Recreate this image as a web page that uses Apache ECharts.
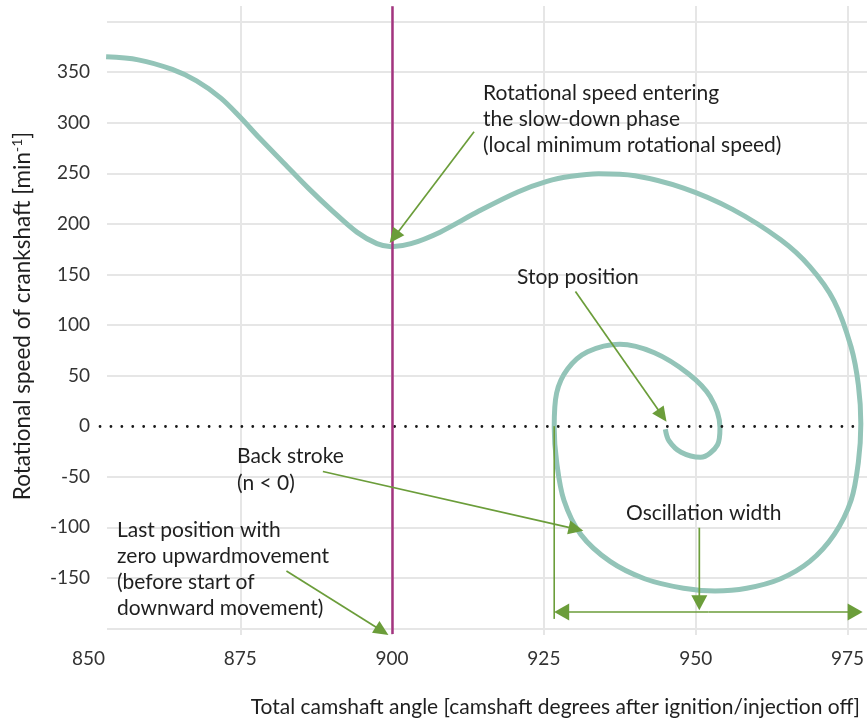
<!DOCTYPE html>
<html>
<head>
<meta charset="utf-8">
<script src="https://cdn.jsdelivr.net/npm/echarts@6/dist/echarts.min.js"></script>
<style>html,body{margin:0;padding:0;background:#fff}#c{width:867px;height:719px}</style>
</head>
<body>
<div id="c"></div>
<script>
// ---- data ----
const xTickValues = [850, 875, 900, 925, 950, 975];
const yTickValues = [-150, -100, -50, 0, 50, 100, 150, 200, 250, 300, 350];

const curveAngle = [852.9, 858.2, 863.8, 867.8, 871.8, 875.0, 878.2, 882.2, 886.2, 890.2,
  894.2, 897.5, 899.9, 903.1, 907.9, 914.3, 920.7, 925.5, 929.5, 934.0,
  940.0, 948.0, 956.0, 964.0, 968.8, 972.8, 975.6, 976.8, 977.2, 976.8,
  975.6, 972.8, 968.8, 964.0, 958.4, 953.2, 948.0, 941.6, 935.9, 931.1,
  928.3, 927.1, 926.7, 927.1, 928.9, 932.2, 937.5, 943.2, 948.8, 952.4,
  954.0, 953.6, 950.8, 947.6, 945.6, 945.0];
const curveSpeed = [365.1, 362.1, 352.6, 341.3, 324.3, 305.3, 284.5, 259.9, 235.3, 212.6,
  191.8, 180.4, 177.4, 180.4, 191.8, 212.6, 231.5, 242.0, 247.0, 249.5,
  247.5, 235.3, 214.5, 184.2, 157.7, 123.7, 78.2, 40.4, 2.5, -35.3,
  -73.2, -107.2, -133.7, -150.8, -160.2, -162.9, -160.2, -150.8, -133.7, -107.2,
  -73.2, -35.3, -1.2, 32.8, 56.5, 73.5, 81.0, 72.6, 51.8, 29.0,
  -1.2, -18.3, -30.8, -25.8, -14.4, -3.0];

const markerAngle = 900;            // start of slow-down phase
const markerSpan = [415, -205.5];   // speed range covered by the marker line
const zeroLineSpan = [851.9, 977.6];

// annotation arrows: [fromAngle, fromSpeed, toAngle, toSpeed]
const arrowSlowDown = [913.5, 291.0, 899.6, 181.0];
const arrowStop = [930.2, 133.1, 945.2, 4.4];
const arrowBackStroke = [888.6, -44.8, 931.5, -103.4];
const arrowLastPos = [882.6, -143.2, 899.4, -206.3];
const arrowOscLabel = [950.6, -100.4, 950.6, -182.0];
const oscWidth = [926.7, 977.5, -183.7];   // from angle, to angle, at speed
const oscExtension = [926.7, 0, -190.5];    // angle, from speed, to speed

const noteSlowDown = ['Rotational speed entering', 'the slow-down phase', '(local minimum rotational speed)'];
const noteStop = ['Stop position'];
const noteBack = ['Back stroke', '(n < 0)'];
const noteLast = ['Last position with', 'zero upwardmovement', '(before start of', 'downward movement)'];
const noteOsc = ['Oscillation width'];
const xTitle = 'Total camshaft angle [camshaft degrees after ignition/injection off]';
const yTitle = 'Rotational speed of crankshaft [min';

// ---- chart ----
const FONT = 'Lato, "Noto Sans", sans-serif';
const TXT = '#1f1f1f';
const GREEN = '#6b9d3a';
const GRIDC = '#e6e6e6';
const NOTE_FS = 21;
const chart = echarts.init(document.getElementById('c'));

const yCount = Math.round((400 - (-200)) / 50) + 1;
const yGridColors = [];
for (let i = 0; i < yCount; i++) yGridColors.push(-200 + i * 50 === 0 ? 'rgba(0,0,0,0)' : GRIDC);

chart.setOption({
  animation: false,
  grid: [
    {left: 88.5, right: 0, top: 6, height: 629},
    {left: 107, right: 0, top: 21.5, height: 607}
  ],
  xAxis: [
    {gridIndex: 0, type: 'value', min: 850, max: 977.6, interval: 25,
      axisLine: {show: false}, axisTick: {show: false},
      axisLabel: {margin: 14, fontSize: 19, fontFamily: FONT, color: '#333',
        formatter: v => xTickValues.includes(v) ? String(v) : ''},
      splitLine: {show: true, showMinLine: false, showMaxLine: false, lineStyle: {color: GRIDC, width: 2}}},
    {gridIndex: 1, type: 'value', min: 853, max: 977.6, show: false}
  ],
  yAxis: [
    {gridIndex: 0, type: 'value', min: -206.42, max: 415.32, show: false, splitLine: {show: false}},
    {gridIndex: 1, type: 'value', min: -200, max: 400, interval: 50,
      axisLine: {show: false}, axisTick: {show: false},
      axisLabel: {margin: 17, fontSize: 19, fontFamily: FONT, color: '#333',
        formatter: v => yTickValues.includes(v) ? String(v) : ''},
      splitLine: {show: true, lineStyle: {color: yGridColors, width: 2}}}
  ],
  series: [{
    type: 'line', xAxisIndex: 0, yAxisIndex: 0, clip: false,
    data: curveAngle.map((x, i) => [x, curveSpeed[i]]),
    showSymbol: false, smooth: 0.33,
    lineStyle: {color: '#93c4b8', width: 5},
    markLine: {
      silent: true, symbol: 'none', animation: false, label: {show: false},
      data: [
        [{coord: [zeroLineSpan[0], 0], lineStyle: {color: '#1a1a1a', width: 2.8, type: [0.01, 10.9], cap: 'round'}},
         {coord: [zeroLineSpan[1], 0]}],
        [{coord: [markerAngle, markerSpan[0]], lineStyle: {color: '#a3347f', width: 2.5, type: 'solid'}},
         {coord: [markerAngle, markerSpan[1]]}]
      ]
    }
  }]
});

function px(x, y) { return chart.convertToPixel({xAxisIndex: 0, yAxisIndex: 0}, [x, y]); }

function arrow(a, headLen, headW) {
  const p0 = px(a[0], a[1]), p1 = px(a[2], a[3]);
  const dx = p1[0] - p0[0], dy = p1[1] - p0[1];
  const L = Math.hypot(dx, dy), ux = dx / L, uy = dy / L;
  const bx = p1[0] - ux * headLen, by = p1[1] - uy * headLen;
  const nx = -uy, ny = ux;
  return [
    {type: 'line', shape: {x1: p0[0], y1: p0[1], x2: bx + ux, y2: by + uy}, style: {stroke: GREEN, lineWidth: 1.7}, z: 10},
    {type: 'polygon', shape: {points: [[p1[0], p1[1]], [bx + nx * headW / 2, by + ny * headW / 2], [bx - nx * headW / 2, by - ny * headW / 2]]},
      style: {fill: GREEN}, z: 10}
  ];
}

function note(lines, x, yTop, lh) {
  return {type: 'text', x: x, y: yTop, z: 11,
    style: {text: lines.join('\n'), fontSize: NOTE_FS, fontFamily: FONT, fill: TXT, lineHeight: lh, verticalAlign: 'top', align: 'left'}};
}

const g = [];
g.push(...arrow(arrowSlowDown, 15, 14));
g.push(...arrow(arrowStop, 15, 14));
g.push(...arrow(arrowBackStroke, 15, 14));
g.push(...arrow(arrowLastPos, 15, 14));
g.push(...arrow(arrowOscLabel, 15, 16));
g.push(...arrow([(oscWidth[0] + oscWidth[1]) / 2, oscWidth[2], oscWidth[0], oscWidth[2]], 15, 17));
g.push(...arrow([(oscWidth[0] + oscWidth[1]) / 2, oscWidth[2], oscWidth[1], oscWidth[2]], 15, 17));
const e0 = px(oscExtension[0], oscExtension[1]), e1 = px(oscExtension[0], oscExtension[2]);
g.push({type: 'line', shape: {x1: e0[0], y1: e0[1], x2: e1[0], y2: e1[1]}, style: {stroke: GREEN, lineWidth: 1.6}, z: 10});

g.push(note(noteSlowDown, 483, 80.6, 26));
g.push(note(noteStop, 517, 264.3, 26));
g.push(note(noteBack, 237, 443.4, 26.4));
g.push(note(noteLast, 117, 517, 26.1));
g.push(note(noteOsc, 626, 500.4, 26));

g.push({type: 'text', x: 860, y: 707, z: 11,
  style: {text: xTitle, fontSize: NOTE_FS, fontFamily: FONT, fill: TXT, align: 'right', verticalAlign: 'middle'}});
g.push({type: 'text', x: 23, y: 316, rotation: Math.PI / 2, z: 11,
  style: {text: yTitle + '{sup|-1}]', fontSize: 22.5, fontFamily: FONT, fill: TXT, align: 'center', verticalAlign: 'middle',
    rich: {sup: {fontSize: 14, fontFamily: FONT, fill: TXT, verticalAlign: 'top', lineHeight: 26}}}});

chart.setOption({graphic: g});
</script>
</body>
</html>
